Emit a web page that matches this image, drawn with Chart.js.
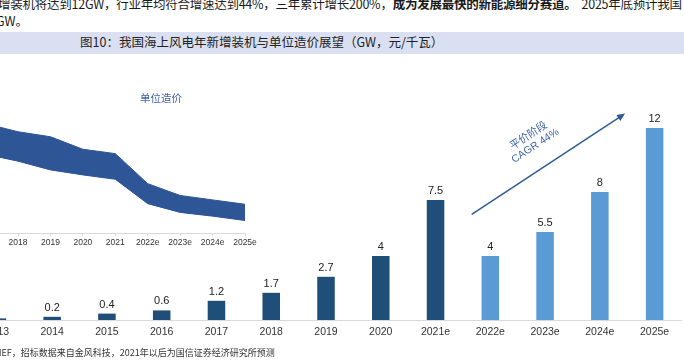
<!DOCTYPE html>
<html>
<head>
<meta charset="utf-8">
<script src="https://cdn.jsdelivr.net/npm/chart.js@4.4.1/dist/chart.umd.min.js"></script>
<style>
    body { margin: 0; width: 684px; height: 361px; overflow: hidden; background: #fff; position: relative; font-family: "Noto Sans CJK SC", sans-serif; }
    .line { position: absolute; white-space: nowrap; font-size: 12.5px; line-height: 15px; color: #1a1a1a; }
    #p1 { left: -2px; top: -4px; letter-spacing: -0.25px; }
    #p2 { left: -4px; top: 13px; }
    #titlebar { position: absolute; left: 0; top: 32px; width: 684px; height: 22px; background: #dae0f1; }
    #title { left: 80px; top: 34px; color: #222; }
    .chart { position: absolute; }
    #mainChart { left: -30px; top: 96px; }
    #costChart { left: -29px; top: 58px; }
    #costLabel { position: absolute; left: 140px; top: 92px; font-size: 10.5px; line-height: 12px; color: #3f63a8; }
    #source { position: absolute; left: -11px; top: 347px; font-size: 9px; line-height: 11px; color: #333; white-space: nowrap; }
</style>
</head>
<body>
<div id="p1" class="line">增装机将达到12GW，行业年均符合增速达到44%，三年累计增长200%，<b>成为发展最快的新能源细分赛道。</b>&nbsp;&nbsp;2025年底预计我国</div>
<div id="p2" class="line">GW。</div>
<div id="titlebar"></div>
<div id="title" class="line">图10：我国海上风电年新增装机与单位造价展望（GW，元/千瓦）</div>
<canvas id="mainChart" class="chart" width="712" height="254"></canvas>
<canvas id="costChart" class="chart" width="294" height="189"></canvas>
<div id="costLabel">单位造价</div>
<div id="source">BNEF，招标数据来自金风科技，2021年以后为国信证券经济研究所预测</div>

<script>
// -----------------------------
// Data
// -----------------------------
const years = ['2013', '2014', '2015', '2016', '2017', '2018', '2019', '2020', '2021e', '2022e', '2023e', '2024e', '2025e'];
const newCapacity = [0.1, 0.2, 0.4, 0.6, 1.2, 1.7, 2.7, 4, 7.5, 4, 5.5, 8, 12];
const capacityLabels = ['', '0.2', '0.4', '0.6', '1.2', '1.7', '2.7', '4', '7.5', '4', '5.5', '8', '12'];
const parityStage = [false, false, false, false, false, false, false, false, false, true, true, true, true];

const costYears = ['2017', '2018', '2019', '2020', '2021', '2022e', '2023e', '2024e', '2025e'];
const costHigh = [16750, 16100, 15700, 14700, 14350, 11950, 11000, 10650, 10300];
const costLow = [14300, 13750, 13050, 12650, 12300, 10350, 9650, 9350, 9000];

// arrow annotation in (category index, GW) units
const arrowFrom = [8.66, 6.6];
const arrowTo = [11.46, 12.9];
const arrowText = ['平价阶段', 'CAGR 44%'];
const arrowTextAt = [9.76, 11.2];

const DARK = '#1f4e79';
const LIGHT = '#5b9bd5';
const BAND = '#2e5596';
const LATIN = '"Liberation Sans", Arial, sans-serif';

// -----------------------------
// Plugins
// -----------------------------
const barValues = {
    id: 'barValues',
    afterDatasetsDraw(chart) {
        const ctx = chart.ctx;
        const meta = chart.getDatasetMeta(0);
        ctx.save();
        ctx.font = `11px ${LATIN}`;
        ctx.fillStyle = '#222';
        ctx.textAlign = 'center';
        ctx.textBaseline = 'alphabetic';
        meta.data.forEach((bar, i) => {
            if (capacityLabels[i]) ctx.fillText(capacityLabels[i], bar.x, bar.y - 6);
        });
        ctx.restore();
    }
};

const trendArrow = {
    id: 'trendArrow',
    afterDatasetsDraw(chart) {
        const { ctx, scales: { x, y } } = chart;
        const x1 = x.getPixelForValue(arrowFrom[0]), y1 = y.getPixelForValue(arrowFrom[1]);
        const x2 = x.getPixelForValue(arrowTo[0]), y2 = y.getPixelForValue(arrowTo[1]);
        const angle = Math.atan2(y2 - y1, x2 - x1);

        ctx.save();
        ctx.strokeStyle = '#2f5b94';
        ctx.fillStyle = '#2f5b94';
        ctx.lineWidth = 1.5;
        ctx.beginPath();
        ctx.moveTo(x1, y1);
        ctx.lineTo(x2 - 6 * Math.cos(angle), y2 - 6 * Math.sin(angle));
        ctx.stroke();

        ctx.translate(x2, y2);
        ctx.rotate(angle);
        ctx.beginPath();
        ctx.moveTo(0, 0);
        ctx.lineTo(-8, -3.5);
        ctx.lineTo(-8, 3.5);
        ctx.closePath();
        ctx.fill();
        ctx.restore();

        // label along the arrow
        ctx.save();
        ctx.translate(x.getPixelForValue(arrowTextAt[0]), y.getPixelForValue(arrowTextAt[1]));
        ctx.rotate(angle);
        ctx.fillStyle = '#3d68a6';
        ctx.textAlign = 'center';
        ctx.textBaseline = 'middle';
        ctx.font = `10.5px ${LATIN}, "Noto Sans CJK SC"`;
        ctx.fillText(arrowText[0], 0, -6);
        ctx.fillText(arrowText[1], 0, 6);
        ctx.restore();
    }
};

// -----------------------------
// Charts
// -----------------------------
new Chart(document.getElementById('mainChart'), {
    type: 'bar',
    data: {
        labels: years,
        datasets: [{
            data: newCapacity,
            backgroundColor: parityStage.map(p => p ? LIGHT : DARK),
            barPercentage: 0.32,
            categoryPercentage: 1
        }]
    },
    options: {
        responsive: false,
        animation: false,
        layout: { padding: 0 },
        plugins: { legend: { display: false }, tooltip: { enabled: false } },
        scales: {
            x: {
                offset: true,
                grid: { display: false, drawTicks: false },
                border: { display: true, color: '#d9d9d9', width: 1 },
                ticks: { color: '#333', font: { family: LATIN, size: 10.5 }, padding: 6, maxRotation: 0, autoSkip: false },
                afterFit(scale) { scale.height = 30; }
            },
            y: { display: false, min: 0, max: 14 }
        }
    },
    plugins: [barValues, trendArrow]
});

new Chart(document.getElementById('costChart'), {
    type: 'line',
    data: {
        labels: costYears,
        datasets: [
            { data: costHigh, fill: '+1', backgroundColor: BAND, borderColor: BAND, borderWidth: 1, pointRadius: 0, tension: 0 },
            { data: costLow, fill: false, borderColor: BAND, borderWidth: 1, pointRadius: 0, tension: 0 }
        ]
    },
    options: {
        responsive: false,
        animation: false,
        layout: { padding: { left: 14.6, right: 20, top: 0, bottom: 0 } },
        plugins: { legend: { display: false }, tooltip: { enabled: false } },
        scales: {
            x: {
                offset: false,
                grid: { display: true, drawOnChartArea: false, drawTicks: true, tickLength: 3, color: '#d9d9d9' },
                border: { display: true, color: '#d9d9d9' },
                ticks: { color: '#333', font: { family: LATIN, size: 8.5 }, padding: 2, maxRotation: 0, autoSkip: false },
                afterFit(scale) { scale.height = 14; }
            },
            y: { display: false, min: 8000, max: 22000 }
        }
    }
});
</script>
</body>
</html>
